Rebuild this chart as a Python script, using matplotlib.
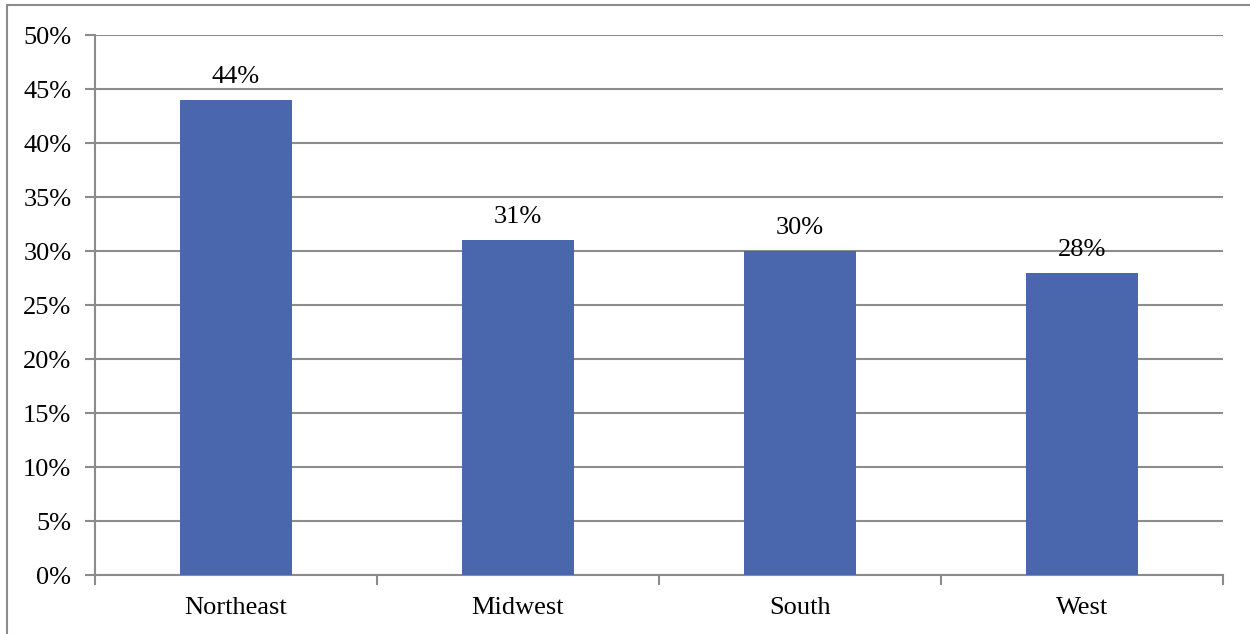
import matplotlib
matplotlib.use("Agg")
import matplotlib.pyplot as plt
from matplotlib.patches import Rectangle
from matplotlib.ticker import MultipleLocator, FuncFormatter

regions = ["Northeast", "Midwest", "South", "West"]
shares = [44, 31, 30, 28]

plt.rcParams["font.family"] = ["Liberation Serif", "DejaVu Serif"]

W, H = 1250, 634
fig = plt.figure(figsize=(W / 100, H / 100), dpi=100)
ax = fig.add_axes([95 / W, 1 - 575 / H, (1223 - 95) / W, (575 - 35) / H])

grid_col = "#8c8c8c"
x = range(len(regions))
ax.bar(x, shares, width=0.4, color="#4a66ac", zorder=3)
for i, v in zip(x, shares):
    ax.text(i, v + 1.1, f"{v}%", ha="center", va="bottom", fontsize=19)

ax.set_xlim(-0.5, len(regions) - 0.5)
ax.set_ylim(0, 50)
ax.yaxis.set_major_locator(MultipleLocator(5))
ax.yaxis.set_major_formatter(FuncFormatter(lambda v, _: f"{v:.0f}%"))
ax.grid(axis="y", color=grid_col, linewidth=1.5, zorder=0)

ax.set_xticks([i - 0.5 for i in range(len(regions) + 1)])
ax.set_xticklabels([])
ax.set_xticks(list(x), minor=True)
ax.set_xticklabels(regions, minor=True)
ax.tick_params(axis="x", which="major", length=7, width=1.5, color=grid_col)
ax.tick_params(axis="x", which="minor", length=0, pad=16, labelsize=19)
ax.tick_params(axis="y", length=7, width=1.5, color=grid_col, labelsize=19, pad=10)

for s in ["top", "right"]:
    ax.spines[s].set_visible(False)
for s in ["left", "bottom"]:
    ax.spines[s].set_color(grid_col)
    ax.spines[s].set_linewidth(1.5)

# outer chart border
fig.patches.append(Rectangle((7 / W, -0.1), 1.2, 1 - 5 / H + 0.1,
                             transform=fig.transFigure, fill=False,
                             edgecolor=grid_col, linewidth=1.5))

fig.savefig("out.png", dpi=100)
